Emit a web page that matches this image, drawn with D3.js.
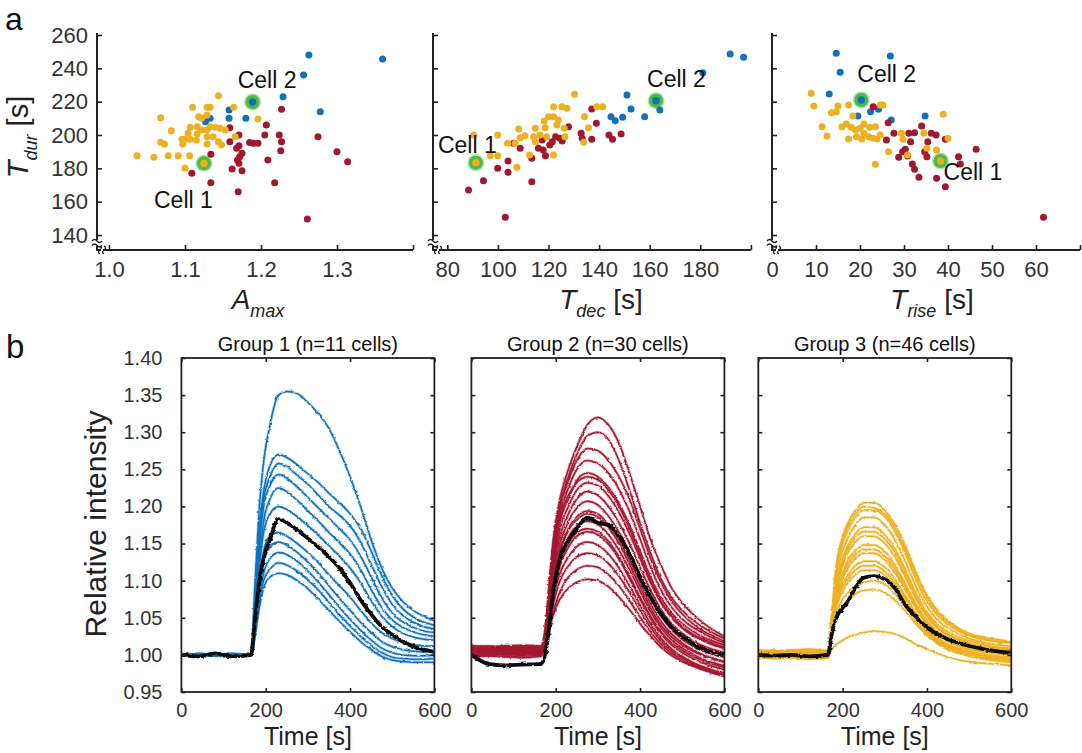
<!DOCTYPE html>
<html>
<head>
<meta charset="utf-8">
<script src="https://cdn.jsdelivr.net/npm/d3@7"></script>
<style>
  body { margin: 0; background: #fff; }
  svg { display: block; }
  text { font-family: "Liberation Sans", Arial, Helvetica, sans-serif; }
</style>
</head>
<body>
<svg id="fig" width="1082" height="753"></svg>
<script>
// ---------------- scatter data (a) ----------------
// [x, T_dur] pairs per group
const amaxGroup1 = [[1.263,248],[1.360,245.6],[1.256,236],[1.229,223],[1.278,214],[1.189,219.8],[1.158,215],[1.158,210],[1.180,210],[1.133,210],[1.127,208]];
const amaxGroup2 = [[1.227,215.4],[1.207,206],[1.159,204.4],[1.171,200],[1.159,196],[1.171,193.6],[1.190,195],[1.196,195],[1.205,200],[1.224,200],[1.227,196],[1.226,190.6],[1.275,199],[1.300,190],[1.314,184],[1.209,185],[1.175,189],[1.169,185],[1.171,183],[1.162,179.6],[1.175,178.6],[1.134,188.4],[1.109,177],[1.134,171.4],[1.170,166],[1.218,171.4],[1.261,149.6],[1.168,192],[1.185,195.5],[1.172,187]];
const amaxGroup3 = [[1.037,187.6],[1.059,186.6],[1.078,187.6],[1.091,187.6],[1.106,187.6],[1.100,180],[1.125,183],[1.068,195.6],[1.073,194.6],[1.082,202.6],[1.068,210.4],[1.096,197.4],[1.100,197.4],[1.107,197.4],[1.097,194.6],[1.107,204.6],[1.116,205],[1.122,203],[1.129,203],[1.133,205],[1.140,204.6],[1.146,204],[1.153,203],[1.116,200.6],[1.129,199],[1.137,199],[1.144,196],[1.148,194],[1.129,194.6],[1.122,210],[1.129,212],[1.118,211],[1.110,216.6],[1.129,216.6],[1.133,216.6],[1.144,223.6],[1.164,216.6],[1.166,199],[1.196,209.6],[1.104,201],[1.115,197]];

const tdecGroup1 = [[191.8,248.6],[197.1,246.6],[181,237.4],[151,224],[162.5,220.6],[164,215],[152.6,215.6],[158,211],[149.3,210.6],[144.7,211],[146.4,208.6]];
const tdecGroup2 = [[88.4,167],[94.3,172.6],[99.9,180],[104,184.4],[104,177.6],[102.9,150.6],[113.4,172],[113.4,186],[108.8,192],[106.2,195],[117.5,197],[117.9,191],[118.8,187.6],[121.5,196],[122.8,199],[124.5,198],[127.9,205],[125.4,196.4],[132.9,201],[133.3,198],[137.1,197.4],[138.9,207],[137.1,215.6],[143.9,200],[145.3,197.4],[148.7,200.6],[116,192],[120.5,194]];
const tdecGroup3 = [[91.3,183.4],[90.4,200],[97,187.6],[99.9,187.6],[107.5,180.6],[99.9,200],[103.8,195],[108.2,203.6],[108.8,198.4],[106.8,195],[112.5,188],[114.8,204],[114.1,199],[114.8,196],[118.3,208.4],[118.7,204.4],[120,211],[122,217],[125.3,217],[127.3,216],[130.3,224.4],[122,211],[123.9,209],[123.3,206],[126.2,204],[126.5,199],[122,188],[134.2,211],[135.8,204.4],[133.9,195.6],[139.1,217],[141.4,217],[119.3,199],[116.6,200],[110.7,199.5]];

const triseGroup1 = [[14.6,249],[26.9,247.4],[15.5,237.6],[13,224.6],[20.3,221],[19.5,211.4],[24.2,215.4],[27.1,209],[34.8,211.4],[22.4,214]];
const triseGroup2 = [[23,217],[26.4,207.4],[27.7,201],[26,197],[31.1,201],[32.4,201.4],[34,205.4],[36.2,201],[37.3,200],[39.4,197.4],[31.5,196],[30.3,191.4],[29.7,190],[28.8,186.6],[30.8,187.4],[31.9,182.6],[32.4,179.4],[33.4,174.6],[37.4,174],[39.4,169],[34.7,190],[35.4,196],[42.4,187],[42.8,182.6],[46.4,191.4],[61.7,150.6],[35.2,187]];
const triseGroup3 = [[8.9,225],[9.5,217.4],[11.4,205],[12.5,199.4],[13.5,213.4],[14.6,214],[15,217.4],[17.4,218],[18.4,211.4],[15.9,205],[16.9,206.6],[18,204.6],[19,203],[20,204],[20.9,206.6],[22.2,204.6],[23.5,205],[17.4,197.6],[20.9,201],[22,199],[23,198],[23.9,197.6],[24.6,200],[20.4,197.6],[23.5,182.4],[24.6,218],[25.2,218],[26.5,190],[29.4,201],[29.8,197.4],[30.8,188],[34.5,201],[35.2,192],[37.4,191],[38.9,212.4],[40,198],[38.3,184.4],[19.2,199]];

// highlighted example cells: [A_max panel, T_dec panel, T_rise panel]
const cellOnePoints = [[1.125,183],[91.3,183.4],[38.3,184.4]];
const cellTwoPoints = [[1.189,219.8],[162.5,220.6],[20.3,221]];

const tdurTicks = [140,160,180,200,220,240,260];
const amaxTicks = [1.0,1.1,1.2,1.3,1.4];
const tdecTicks = [80,100,120,140,160,180,200];
const triseTicks = [0,10,20,30,40,50,60,70];

// ---------------- trace data (b) ----------------
const traceTime = [0,40,80,120,165,175,185,195,210,230,250,275,300,325,350,375,400,425,450,475,500,525,550,575,600];

const group1Traces = [
  [1.000,1.002,0.999,1.001,1.000,1.10,1.20,1.26,1.31,1.35,1.355,1.352,1.34,1.325,1.305,1.275,1.24,1.20,1.155,1.117,1.09,1.072,1.06,1.052,1.046],
  [1.000,1.001,1.002,0.999,1.000,1.08,1.17,1.22,1.255,1.27,1.266,1.256,1.244,1.232,1.218,1.205,1.19,1.17,1.14,1.107,1.08,1.062,1.051,1.044,1.040],
  [1.001,0.999,1.000,1.002,1.000,1.07,1.16,1.21,1.24,1.258,1.254,1.242,1.23,1.215,1.2,1.188,1.174,1.152,1.122,1.092,1.068,1.053,1.044,1.038,1.035],
  [1.000,1.000,1.001,1.000,1.000,1.06,1.15,1.20,1.228,1.243,1.238,1.226,1.212,1.198,1.184,1.17,1.155,1.133,1.105,1.077,1.056,1.044,1.037,1.032,1.030],
  [0.999,1.001,1.000,0.999,1.000,1.06,1.13,1.18,1.21,1.225,1.22,1.208,1.194,1.18,1.165,1.151,1.136,1.115,1.088,1.064,1.047,1.037,1.031,1.027,1.025],
  [1.000,1.000,0.999,1.001,1.000,1.05,1.12,1.165,1.19,1.20,1.196,1.186,1.174,1.161,1.147,1.133,1.117,1.097,1.073,1.052,1.038,1.029,1.024,1.021,1.020],
  [1.001,1.000,1.000,0.999,1.000,1.04,1.10,1.14,1.16,1.165,1.16,1.15,1.138,1.124,1.108,1.093,1.078,1.06,1.043,1.03,1.022,1.017,1.014,1.012,1.012],
  [1.000,0.999,1.001,1.000,1.000,1.04,1.09,1.125,1.145,1.152,1.148,1.138,1.125,1.11,1.093,1.076,1.06,1.044,1.03,1.018,1.011,1.007,1.005,1.004,1.005],
  [1.000,1.001,1.000,1.000,1.000,1.03,1.08,1.11,1.13,1.138,1.135,1.126,1.113,1.098,1.081,1.064,1.048,1.033,1.02,1.009,1.003,1.0,0.999,0.999,1.000],
  [0.999,1.000,1.000,1.001,1.000,1.03,1.07,1.10,1.115,1.124,1.121,1.113,1.101,1.087,1.071,1.054,1.039,1.025,1.013,1.003,0.997,0.995,0.994,0.994,0.995],
  [1.000,1.000,0.999,1.000,1.000,1.03,1.065,1.09,1.105,1.11,1.108,1.1,1.089,1.075,1.06,1.045,1.031,1.018,1.007,0.998,0.993,0.991,0.99,0.99,0.99]
];
const group1Mean = [1.000,0.998,1.002,0.998,1.000,1.05,1.10,1.13,1.155,1.183,1.178,1.168,1.157,1.145,1.132,1.117,1.097,1.074,1.055,1.038,1.027,1.018,1.011,1.007,1.004];

const group2Traces = [
  [1.010,1.012,1.009,1.011,1.010,1.03,1.10,1.16,1.21,1.25,1.28,1.31,1.32,1.31,1.285,1.245,1.20,1.155,1.12,1.09,1.07,1.055,1.043,1.033,1.025],
  [1.002,1.000,1.003,1.001,1.002,1.03,1.09,1.15,1.20,1.24,1.27,1.295,1.30,1.29,1.262,1.222,1.178,1.137,1.102,1.077,1.06,1.047,1.037,1.029,1.022],
  [1.008,1.006,1.009,1.007,1.008,1.03,1.09,1.15,1.20,1.235,1.262,1.278,1.275,1.262,1.24,1.21,1.17,1.13,1.097,1.072,1.055,1.042,1.032,1.025,1.018],
  [0.998,0.999,0.997,0.999,0.999,1.03,1.08,1.14,1.19,1.225,1.25,1.262,1.258,1.245,1.223,1.193,1.156,1.118,1.087,1.064,1.048,1.037,1.029,1.022,1.016],
  [1.013,1.011,1.012,1.013,1.012,1.03,1.085,1.14,1.185,1.215,1.232,1.24,1.236,1.222,1.2,1.17,1.135,1.1,1.072,1.052,1.038,1.028,1.021,1.015,1.01],
  [1.004,1.006,1.005,1.003,1.004,1.03,1.08,1.13,1.18,1.21,1.235,1.245,1.24,1.226,1.204,1.175,1.14,1.105,1.077,1.056,1.042,1.032,1.024,1.018,1.013],
  [1.000,1.002,1.001,0.999,1.000,1.02,1.07,1.12,1.17,1.20,1.222,1.232,1.228,1.214,1.192,1.163,1.13,1.097,1.07,1.05,1.036,1.026,1.019,1.013,1.009],
  [1.009,1.007,1.010,1.008,1.008,1.02,1.07,1.12,1.16,1.19,1.21,1.22,1.215,1.2,1.178,1.15,1.118,1.087,1.061,1.042,1.029,1.019,1.012,1.007,1.003],
  [1.003,1.005,1.002,1.004,1.004,1.02,1.06,1.11,1.15,1.18,1.198,1.207,1.202,1.187,1.165,1.138,1.107,1.077,1.052,1.034,1.021,1.012,1.005,1.0,0.997],
  [1.006,1.004,1.007,1.005,1.006,1.02,1.06,1.10,1.14,1.17,1.186,1.194,1.19,1.176,1.155,1.128,1.098,1.069,1.045,1.028,1.016,1.007,1.0,0.995,0.991],
  [0.999,1.001,1.000,1.002,1.000,1.02,1.06,1.1,1.14,1.168,1.182,1.19,1.186,1.172,1.15,1.122,1.092,1.063,1.04,1.024,1.013,1.005,0.999,0.994,0.99],
  [1.011,1.009,1.012,1.010,1.010,1.02,1.05,1.09,1.13,1.158,1.174,1.18,1.176,1.162,1.141,1.115,1.086,1.058,1.036,1.02,1.009,1.001,0.994,0.989,0.985],
  [1.005,1.003,1.004,1.006,1.005,1.02,1.055,1.09,1.125,1.15,1.165,1.17,1.166,1.153,1.132,1.106,1.078,1.052,1.031,1.016,1.006,0.998,0.992,0.987,0.983],
  [1.002,1.004,1.001,1.003,1.003,1.02,1.05,1.08,1.12,1.145,1.16,1.166,1.162,1.149,1.129,1.103,1.075,1.049,1.028,1.013,1.003,0.995,0.989,0.984,0.98],
  [1.007,1.009,1.006,1.008,1.007,1.02,1.05,1.08,1.11,1.132,1.146,1.152,1.148,1.136,1.117,1.093,1.067,1.042,1.022,1.008,0.998,0.99,0.984,0.979,0.976],
  [0.997,0.999,0.998,0.996,0.998,1.015,1.04,1.07,1.10,1.12,1.132,1.137,1.134,1.123,1.106,1.084,1.06,1.037,1.018,1.005,0.996,0.988,0.982,0.977,0.973],
  [1.004,1.002,1.005,1.003,1.004,1.015,1.04,1.06,1.085,1.105,1.115,1.12,1.118,1.108,1.093,1.073,1.051,1.031,1.014,1.002,0.993,0.986,0.98,0.975,0.971],
  [1.009,1.011,1.008,1.010,1.009,1.015,1.035,1.055,1.075,1.09,1.098,1.102,1.1,1.092,1.078,1.061,1.042,1.025,1.01,0.999,0.991,0.985,0.98,0.976,0.973]
];
const group2Mean = [1.000,0.988,0.986,0.987,0.988,1.00,1.04,1.09,1.13,1.155,1.17,1.185,1.178,1.175,1.16,1.136,1.105,1.078,1.055,1.037,1.025,1.015,1.008,1.003,1.000];

const group3Traces = [
  [1.006,1.004,1.007,1.005,1.006,1.06,1.12,1.15,1.175,1.195,1.205,1.205,1.195,1.175,1.145,1.11,1.08,1.06,1.046,1.036,1.029,1.025,1.022,1.02,1.018],
  [0.997,0.995,0.996,0.998,0.997,1.055,1.115,1.145,1.17,1.19,1.2,1.198,1.19,1.17,1.14,1.106,1.077,1.057,1.044,1.034,1.027,1.023,1.02,1.018,1.017],
  [1.000,1.002,1.001,1.003,1.001,1.05,1.11,1.14,1.165,1.185,1.195,1.195,1.186,1.165,1.135,1.1,1.072,1.053,1.041,1.032,1.026,1.022,1.019,1.017,1.016],
  [1.004,1.006,1.003,1.005,1.005,1.05,1.10,1.13,1.155,1.175,1.185,1.185,1.175,1.154,1.124,1.091,1.065,1.047,1.036,1.028,1.022,1.018,1.015,1.013,1.012],
  [0.995,0.997,0.996,0.994,0.996,1.05,1.09,1.12,1.145,1.163,1.172,1.172,1.162,1.142,1.113,1.082,1.058,1.041,1.031,1.024,1.019,1.015,1.012,1.01,1.009],
  [1.001,1.002,1.003,1.001,1.001,1.045,1.09,1.115,1.14,1.158,1.166,1.166,1.156,1.137,1.108,1.078,1.054,1.038,1.028,1.021,1.016,1.012,1.01,1.008,1.007],
  [1.007,1.005,1.006,1.008,1.006,1.045,1.085,1.11,1.135,1.152,1.16,1.16,1.15,1.131,1.103,1.074,1.051,1.036,1.026,1.02,1.015,1.011,1.009,1.007,1.006],
  [0.998,1.000,0.999,0.997,0.998,1.04,1.08,1.10,1.125,1.14,1.148,1.148,1.139,1.12,1.094,1.067,1.046,1.031,1.022,1.016,1.011,1.008,1.006,1.004,1.003],
  [1.003,1.001,1.004,1.002,1.003,1.04,1.078,1.1,1.12,1.135,1.142,1.142,1.133,1.115,1.09,1.064,1.043,1.029,1.02,1.014,1.009,1.006,1.004,1.002,1.001],
  [0.996,0.998,0.997,0.999,0.997,1.04,1.075,1.095,1.115,1.13,1.137,1.137,1.128,1.11,1.086,1.061,1.041,1.027,1.018,1.012,1.008,1.005,1.003,1.001,1.0],
  [1.005,1.003,1.004,1.006,1.004,1.035,1.07,1.09,1.105,1.12,1.126,1.126,1.118,1.101,1.078,1.055,1.036,1.023,1.014,1.009,1.005,1.002,1.0,0.998,0.997],
  [1.002,1.001,1.000,1.000,1.001,1.035,1.068,1.085,1.1,1.114,1.12,1.12,1.112,1.096,1.074,1.052,1.033,1.021,1.012,1.007,1.003,1.0,0.998,0.996,0.995],
  [0.999,0.997,0.998,1.000,0.998,1.035,1.065,1.08,1.095,1.108,1.114,1.114,1.107,1.091,1.07,1.049,1.031,1.019,1.011,1.006,1.002,0.999,0.997,0.995,0.994],
  [1.004,1.006,1.003,1.004,1.004,1.03,1.055,1.07,1.082,1.093,1.098,1.1,1.095,1.082,1.064,1.045,1.029,1.017,1.009,1.004,1.0,0.997,0.995,0.993,0.992],
  [0.997,0.998,0.999,0.997,0.998,1.03,1.05,1.06,1.072,1.082,1.087,1.088,1.084,1.073,1.058,1.041,1.026,1.015,1.007,1.002,0.998,0.995,0.993,0.991,0.99],
  [1.001,1.000,1.001,1.002,1.000,1.008,1.014,1.018,1.023,1.027,1.03,1.032,1.031,1.028,1.022,1.014,1.008,1.002,0.997,0.993,0.991,0.989,0.988,0.987,0.986]
];
const group3Mean = [1.000,0.999,1.000,0.998,1.000,1.03,1.05,1.06,1.07,1.09,1.104,1.106,1.102,1.089,1.066,1.051,1.037,1.028,1.021,1.016,1.012,1.009,1.006,1.004,1.003];

const intensityTicks = [0.95,1.00,1.05,1.10,1.15,1.20,1.25,1.30,1.35,1.40];
const timeTicks = [0,200,400,600];
const groupTitles = ["Group 1 (n=11 cells)", "Group 2 (n=30 cells)", "Group 3 (n=46 cells)"];

// ---------------- drawing ----------------
const FONT = '"Liberation Sans", Arial, Helvetica, sans-serif';
const INK = "#222";
const colors = { g1: "#1170bd", g2: "#a3162f", g3: "#ecb021", cell: "#4cb948" };

const svg = d3.select("#fig");
const defs = svg.append("defs");

// gentle wobble so the recorded traces read as noisy signals
function jitterFilter(id, scale, freq, seed) {
  const f = defs.append("filter").attr("id", id)
    .attr("filterUnits", "userSpaceOnUse")
    .attr("x", 0).attr("y", 330).attr("width", 1082).attr("height", 400);
  f.append("feTurbulence").attr("type", "fractalNoise")
    .attr("baseFrequency", freq).attr("numOctaves", 2).attr("seed", seed).attr("result", "noise");
  f.append("feDisplacementMap").attr("in", "SourceGraphic").attr("in2", "noise")
    .attr("scale", scale).attr("xChannelSelector", "R").attr("yChannelSelector", "G");
}
jitterFilter("jitterTrace", 2.6, "0.22 0.35", 4);
jitterFilter("jitterMean", 3, "0.2 0.3", 9);

// panel letters
svg.append("text").attr("x", 5).attr("y", 30).attr("font-size", 32).attr("fill", "#111").text("a");
svg.append("text").attr("x", 6).attr("y", 358).attr("font-size", 33).attr("fill", "#111").text("b");

// ---- (a) scatter panels ----
const yDur = d3.scaleLinear().domain([140, 260]).range([235, 35]);
const axisBottomY = 250, axisTopY = 33;

const scatterPanels = [
  { xDom: [1.0, 1.4], xRange: [109, 413], axisX: 97, ticks: amaxTicks, fmt: d3.format(".1f"),
    groups: [amaxGroup1, amaxGroup2, amaxGroup3], label: ["A", "max", ""], labelX: 258,
    offs: [[-50, 45], [-15, -14]], showY: true },
  { xDom: [80, 200], xRange: [447.3, 750.9], axisX: 433, ticks: tdecTicks, fmt: d3.format("d"),
    groups: [tdecGroup1, tdecGroup2, tdecGroup3], label: ["T", "dec", " [s]"], labelX: 601,
    offs: [[-38, -10], [-9, -14]], showY: false },
  { xDom: [0, 70], xRange: [772, 1080], axisX: 772, ticks: triseTicks, fmt: d3.format("d"),
    groups: [triseGroup1, triseGroup2, triseGroup3], label: ["T", "rise", " [s]"], labelX: 932,
    offs: [[3, 19], [-4, -18]], showY: false }
];

scatterPanels.forEach((p, i) => {
  const x = d3.scaleLinear().domain(p.xDom).range(p.xRange);
  const g = svg.append("g");
  const last = p.ticks[p.ticks.length - 1];

  // y axis
  const ya = g.append("g").attr("transform", `translate(${p.axisX},0)`)
    .call(d3.axisLeft(yDur).tickValues(tdurTicks).tickSize(-5).tickPadding(9)
      .tickFormat(p.showY ? d3.format("d") : () => ""));
  ya.select(".domain").remove();
  ya.selectAll("line").attr("stroke", INK).attr("stroke-width", 1.6);
  ya.selectAll("text").attr("font-family", FONT).attr("font-size", 22).attr("fill", "#333");

  // x axis
  const xa = g.append("g").attr("transform", `translate(0,${axisBottomY})`)
    .call(d3.axisBottom(x).tickValues(p.ticks).tickSize(-5).tickPadding(11)
      .tickFormat(d => d === last ? "" : p.fmt(d)));
  xa.select(".domain").remove();
  xa.selectAll("line").attr("stroke", INK).attr("stroke-width", 1.6);
  xa.selectAll("text").attr("font-family", FONT).attr("font-size", 22).attr("fill", "#333");

  // axis lines with a break near the corner
  const ax = p.axisX;
  g.append("path").attr("fill", "none").attr("stroke", INK).attr("stroke-width", 2)
    .attr("d", `M${ax},${axisTopY}V240 M${ax},246V${axisBottomY}H${p.xRange[1]}`);
  g.append("path").attr("fill", "none").attr("stroke", INK).attr("stroke-width", 1.4)
    .attr("d", `M${ax - 5},241 q2.5,-3 5,0 t5,0 M${ax - 5},245.5 q2.5,-3 5,0 t5,0` +
               ` M${ax + 3},${axisBottomY + 4} q-3,-2 0,-4 t0,-4 M${ax + 7},${axisBottomY + 4} q-3,-2 0,-4 t0,-4`);
  g.append("rect").attr("x", ax + 4).attr("y", axisBottomY - 1.2).attr("width", 2).attr("height", 2.4).attr("fill", "#fff");

  // highlighted cells (halo)
  [cellOnePoints[i], cellTwoPoints[i]].forEach(c => {
    g.append("circle").attr("cx", x(c[0])).attr("cy", yDur(c[1])).attr("r", 8.5)
      .attr("fill", colors.cell).attr("opacity", 0.45);
    g.append("circle").attr("cx", x(c[0])).attr("cy", yDur(c[1])).attr("r", 7)
      .attr("fill", colors.cell);
  });

  // dots
  const cols = [colors.g1, colors.g2, colors.g3];
  p.groups.forEach((pts, k) => {
    g.append("g").selectAll("circle").data(pts).join("circle")
      .attr("cx", d => x(d[0])).attr("cy", d => yDur(d[1])).attr("r", 3.5)
      .attr("fill", cols[k]);
  });
  // keep the highlighted cell dots on top
  [[cellOnePoints[i], colors.g3], [cellTwoPoints[i], colors.g1]].forEach(([c, col]) => {
    g.append("circle").attr("cx", x(c[0])).attr("cy", yDur(c[1])).attr("r", 3.6).attr("fill", col);
  });

  // cell labels
  [["Cell 1", cellOnePoints[i], p.offs[0]], ["Cell 2", cellTwoPoints[i], p.offs[1]]].forEach(([t, c, o]) => {
    g.append("text").attr("x", x(c[0]) + o[0]).attr("y", yDur(c[1]) + o[1])
      .attr("font-size", 23).attr("fill", "#111").text(t);
  });

  // x label
  const lt = g.append("text").attr("x", p.labelX).attr("y", 309).attr("text-anchor", "middle")
    .attr("font-size", 28).attr("fill", "#222");
  lt.append("tspan").attr("font-style", "italic").text(p.label[0]);
  lt.append("tspan").attr("font-style", "italic").attr("font-size", 18).attr("dy", 8).text(p.label[1]);
  if (p.label[2]) lt.append("tspan").attr("dy", -8).text(p.label[2]);
});

// y label for the scatter row
const yl = svg.append("text").attr("transform", "translate(28,137) rotate(-90)")
  .attr("text-anchor", "middle").attr("font-size", 29).attr("fill", "#222");
yl.append("tspan").attr("font-style", "italic").text("T");
yl.append("tspan").attr("font-style", "italic").attr("font-size", 18).attr("dy", 9).text("dur");
yl.append("tspan").attr("dy", -9).text(" [s]");

// ---- (b) trace panels ----
const bLeft = [181.4, 471.4, 758.3], bWidth = 253, bTop = 358, bBottom = 692;
const yInt = d3.scaleLinear().domain([0.95, 1.40]).range([bBottom, bTop]);
const traceSets = [
  [group1Traces, group1Mean, colors.g1],
  [group2Traces, group2Mean, colors.g2],
  [group3Traces, group3Mean, colors.g3]
];

traceSets.forEach(([traces, mean, col], i) => {
  const L = bLeft[i];
  const x = d3.scaleLinear().domain([0, 600]).range([L, L + bWidth]);
  const g = svg.append("g");

  defs.append("clipPath").attr("id", "clipB" + i)
    .append("rect").attr("x", L).attr("y", bTop).attr("width", bWidth).attr("height", bBottom - bTop);

  const line = d3.line().x((d, j) => x(traceTime[j])).y(d => yInt(d)).curve(d3.curveMonotoneX);

  const plot = g.append("g").attr("clip-path", `url(#clipB${i})`);
  const tg = plot.append("g").attr("filter", "url(#jitterTrace)");
  // soft halo + core line for each trace
  tg.selectAll("path.halo").data(traces).join("path").attr("class", "halo")
    .attr("d", line).attr("fill", "none").attr("stroke", col).attr("stroke-width", 3)
    .attr("stroke-opacity", 0.3);
  tg.selectAll("path.core").data(traces).join("path").attr("class", "core")
    .attr("d", line).attr("fill", "none").attr("stroke", col).attr("stroke-width", 1.5);
  plot.append("path").datum(mean).attr("filter", "url(#jitterMean)")
    .attr("d", line).attr("fill", "none").attr("stroke", "#111").attr("stroke-width", 3.8)
    .attr("stroke-linejoin", "round");

  // frame
  g.append("rect").attr("x", L).attr("y", bTop).attr("width", bWidth).attr("height", bBottom - bTop)
    .attr("fill", "none").attr("stroke", INK).attr("stroke-width", 1.8);

  const style = sel => {
    sel.select(".domain").remove();
    sel.selectAll("line").attr("stroke", INK).attr("stroke-width", 1.6);
    sel.selectAll("text").attr("font-family", FONT).attr("font-size", 20).attr("fill", "#333");
  };
  g.append("g").attr("transform", `translate(${L},0)`)
    .call(d3.axisLeft(yInt).tickValues(intensityTicks).tickSize(-4).tickPadding(19)
      .tickFormat(i === 0 ? d3.format(".2f") : () => "")).call(style);
  g.append("g").attr("transform", `translate(${L + bWidth},0)`)
    .call(d3.axisRight(yInt).tickValues(intensityTicks).tickSize(-4).tickFormat(() => "")).call(style);
  g.append("g").attr("transform", `translate(0,${bBottom})`)
    .call(d3.axisBottom(x).tickValues(timeTicks).tickSize(-4).tickPadding(11).tickFormat(d3.format("d"))).call(style);
  g.append("g").attr("transform", `translate(0,${bTop})`)
    .call(d3.axisTop(x).tickValues(timeTicks).tickSize(-4).tickFormat(() => "")).call(style);

  g.append("text").attr("x", L + bWidth / 2).attr("y", 351).attr("text-anchor", "middle")
    .attr("font-size", 20).attr("fill", "#111").text(groupTitles[i]);
  g.append("text").attr("x", L + bWidth / 2).attr("y", 745).attr("text-anchor", "middle")
    .attr("font-size", 25).attr("fill", "#222").text("Time [s]");
});

svg.append("text").attr("transform", "translate(106,524) rotate(-90)")
  .attr("text-anchor", "middle").attr("font-size", 30).attr("fill", "#222").text("Relative intensity");
</script>
</body>
</html>
